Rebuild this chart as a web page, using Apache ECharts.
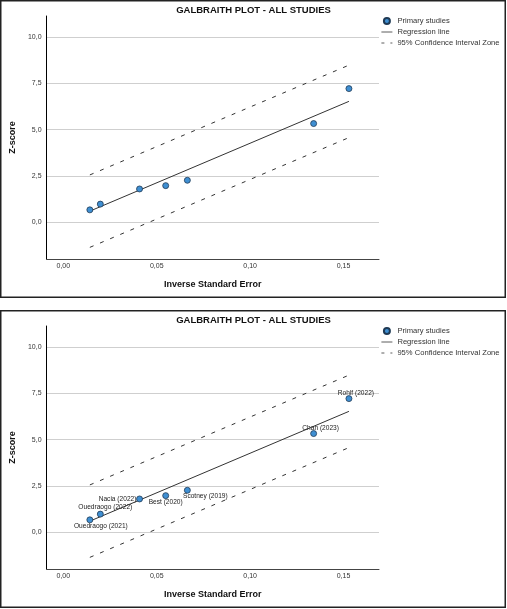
<!DOCTYPE html>
<html>
<head>
<meta charset="utf-8">
<script src="https://cdn.jsdelivr.net/npm/echarts@6/dist/echarts.min.js"></script>
<style>
body { margin: 0; background: #fff; }
.panel { position: absolute; left: 0; width: 507px; height: 298px; }
</style>
</head>
<body>
<div id="top" class="panel" style="top:0"></div>
<div id="bottom" class="panel" style="top:310px"></div>
<script>
// data
var studyNames = ['Ouedraogo (2021)', 'Ouedraogo (2022)', 'Nacia (2022)', 'Best (2020)', 'Scotney (2019)', 'Chan (2023)', 'Rohlf (2022)'];
var inverseSE = [0.0142, 0.0198, 0.0408, 0.0548, 0.0664, 0.1340, 0.1529];
var zScores = [0.66, 0.97, 1.79, 1.97, 2.26, 5.33, 7.22];

var lineX = [0.0142, 0.1529];
var regressionY = [0.59, 6.53];
var upperCI = [2.55, 8.49];
var lowerCI = [-1.37, 4.57];

var yTicks = [0, 2.5, 5, 7.5, 10];
var xTicks = [0, 0.05, 0.10, 0.15];

// label placement (offset from point centre), bottom panel only
var labelOffsets = [[11, 6], [5, -7], [-22, 0], [0, 7], [18, 6], [7, -5], [7, -5]];

var font = 'Liberation Sans, Arial, sans-serif';

function pairs(xs, ys) {
	var out = [];
	for (var i = 0; i < xs.length; i++) {
		out.push([xs[i], ys[i]]);
	}
	return out;
}

function buildOption(withLabels) {
	var points = [];
	for (var i = 0; i < inverseSE.length; i++) {
		var p = { value: [inverseSE[i], zScores[i]], name: studyNames[i] };
		if (withLabels) {
			p.label = {
				show: true,
				position: 'inside',
				offset: labelOffsets[i],
				formatter: studyNames[i],
				color: '#222',
				fontSize: 6.6,
				fontFamily: font
			};
		}
		points.push(p);
	}

	var dashStyle = { color: '#333', width: 1, type: [4, 7] };
	// hide the dot ECharts puts in the middle of line legend icons
	var noDot = { opacity: 0 };

	return {
		animation: false,
		backgroundColor: '#fff',
		title: {
			text: 'GALBRAITH PLOT - ALL STUDIES',
			left: 'center',
			top: 0,
			textStyle: { color: '#111', fontSize: 9.5, fontWeight: 'bold', fontFamily: font }
		},
		legend: {
			orient: 'vertical',
			left: 381,
			top: 17,
			padding: 0,
			itemWidth: 11,
			itemHeight: 6,
			itemGap: 3,
			textStyle: { color: '#333', fontSize: 7.6, fontFamily: font },
			data: [
				{ name: 'Primary studies' },
				{ name: 'Regression line', itemStyle: noDot, lineStyle: { width: 0.8, color: '#333' } },
				{ name: '95% Confidence Interval Zone', itemStyle: noDot, lineStyle: { width: 0.8, color: '#333', type: [3, 6] } }
			]
		},
		graphic: [{
			type: 'rect',
			shape: { x: 0.75, y: 0.75, width: 504.5, height: 296.5 },
			style: { fill: 'none', stroke: '#222', lineWidth: 1.5 },
			silent: true
		}],
		grid: { left: 43, right: 128, top: 16, bottom: 39 },
		xAxis: {
			type: 'value',
			min: -0.009,
			max: 0.169,
			name: 'Inverse Standard Error',
			nameLocation: 'middle',
			nameGap: 21,
			nameTextStyle: { color: '#111', fontSize: 9, fontWeight: 'bold', fontFamily: font },
			axisLine: { onZero: false, lineStyle: { color: '#444', width: 1 } },
			axisTick: { show: false, customValues: xTicks },
			splitLine: { show: false },
			axisLabel: {
				customValues: xTicks,
				margin: 4,
				color: '#333',
				fontSize: 7,
				fontFamily: font,
				formatter: function (v) { return v.toFixed(2).replace('.', ','); }
			}
		},
		yAxis: {
			type: 'value',
			min: -2,
			max: 11.15,
			name: 'Z-score',
			nameLocation: 'middle',
			nameGap: 24,
			nameTextStyle: { color: '#111', fontSize: 9, fontWeight: 'bold', fontFamily: font },
			axisLine: { show: true, onZero: false, lineStyle: { color: '#000', width: 1 } },
			axisTick: { show: false, customValues: yTicks },
			splitLine: { show: true, lineStyle: { color: '#cfcfcf', width: 1 } },
			axisLabel: {
				customValues: yTicks,
				margin: 5,
				color: '#333',
				fontSize: 7,
				fontFamily: font,
				formatter: function (v) { return v.toFixed(1).replace('.', ','); }
			}
		},
		series: [{
			name: '95% Confidence Interval Zone',
			type: 'line',
			symbol: 'none',
			lineStyle: dashStyle,
			itemStyle: { color: '#333' },
			data: pairs(lineX, upperCI),
			silent: true
		}, {
			name: '95% Confidence Interval Zone',
			type: 'line',
			symbol: 'none',
			lineStyle: dashStyle,
			itemStyle: { color: '#333' },
			data: pairs(lineX, lowerCI),
			silent: true
		}, {
			name: 'Regression line',
			type: 'line',
			symbol: 'none',
			lineStyle: { color: '#333', width: 1 },
			itemStyle: { color: '#333' },
			data: pairs(lineX, regressionY),
			silent: true
		}, {
			name: 'Primary studies',
			type: 'scatter',
			symbol: 'circle',
			symbolSize: 6,
			itemStyle: { color: '#3f8fd2', borderColor: '#1f3a55', borderWidth: 0.8, opacity: 1 },
			data: points,
			z: 5
		}]
	};
}

var topChart = echarts.init(document.getElementById('top'));
topChart.setOption(buildOption(false));

var bottomChart = echarts.init(document.getElementById('bottom'));
bottomChart.setOption(buildOption(true));
</script>
</body>
</html>
